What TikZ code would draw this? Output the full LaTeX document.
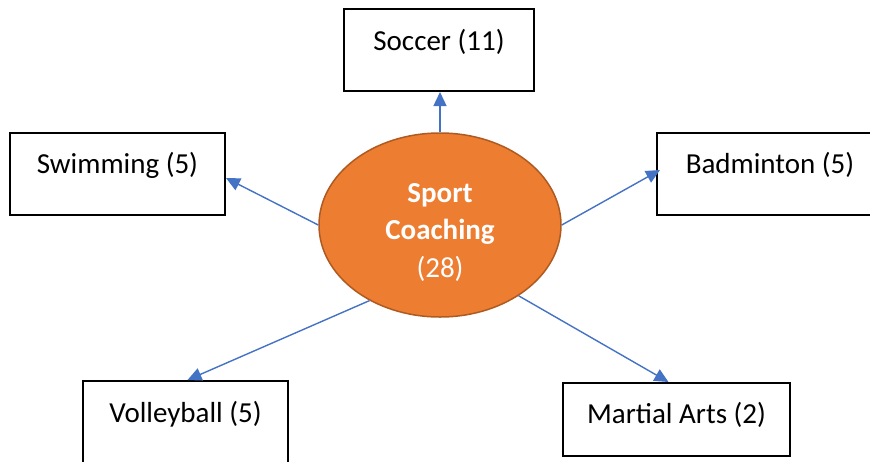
\documentclass[tikz,border=0pt]{standalone}
\usepackage{fontspec}
\setmainfont{Carlito}
\usetikzlibrary{arrows.meta,calc,shapes.geometric}
\definecolor{hubfill}{HTML}{ED7D31}
\definecolor{hubline}{HTML}{AE5A21}
\definecolor{linkblue}{HTML}{4472C4}
\begin{document}
\begin{tikzpicture}[x=1pt,y=-1pt,
  sportbox/.style={draw=black,line width=2pt,fill=white,inner sep=0pt},
  boxtext/.style={font=\fontsize{29}{35}\selectfont,anchor=base},
  hubtext/.style={font=\fontsize{29}{35}\selectfont,text=white,anchor=base},
  hub/.style={ellipse,draw=hubline,line width=1.5pt,fill=hubfill,inner sep=0pt,
    minimum width=242pt,minimum height=184pt},
  link/.style={draw=linkblue,line width=1.4pt,-{Triangle[length=14pt,width=13pt]}}]
\useasboundingbox (0,0) rectangle (870,461);
\begin{scope}
\clip (0,0) rectangle (870,461);
% centre
\node[hub] (sc) at (440,225) {};
\node[hubtext,font=\bfseries\fontsize{29}{35}\selectfont] (t1) at (440,202) {Sport};
\node[hubtext,font=\bfseries\fontsize{29}{35}\selectfont] (t2) at (440,239) {Coaching};
\node[hubtext] (t3) at (440,277) {(28)};
% sports
\node[sportbox,minimum width=190pt,minimum height=82pt] (soc) at (439,50) {};
\node[boxtext] (soct) at (439,50) {Soccer (11)};
\node[sportbox,minimum width=215pt,minimum height=82pt] (swim) at (117.5,174) {};
\node[boxtext] (swimt) at (117.5,173) {Swimming (5)};
\node[sportbox,minimum width=226pt,minimum height=82pt] (bad) at (770,174) {};
\node[boxtext] (badt) at (770,173) {Badminton (5)};
\node[sportbox,minimum width=205pt,minimum height=82pt] (vol) at (185.5,422) {};
\node[boxtext] (volt) at (185.5,422) {Volleyball (5)};
\node[sportbox,minimum width=227pt,minimum height=73pt] (mar) at (676.5,419.5) {};
\node[boxtext] (mart) at (676.5,423) {Martial Arts (2)};
% links
\draw[link] (sc.north) -- (sc.north |- soc.south);
\draw[link] (sc.west) -- ($(swim.east)+(0,4)$);
\draw[link] (sc.east) -- ($(bad.west)+(4,-4)$);
\draw[link] (sc.227) -- ($(vol.north)+(2,0)$);
\draw[link] (sc.318) -- ($(mar.north)+(-8,0)$);
\end{scope}
\end{tikzpicture}
\end{document}
